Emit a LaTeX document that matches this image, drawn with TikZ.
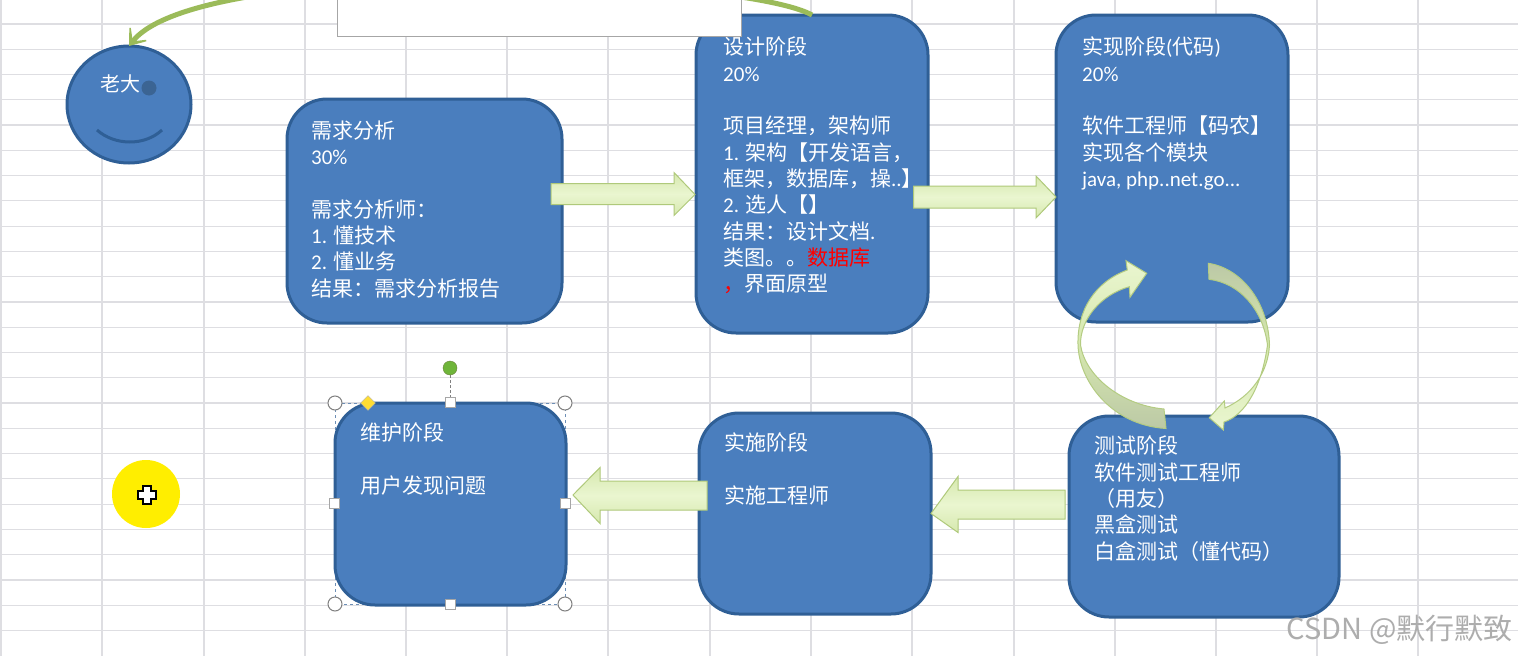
\documentclass[tikz,border=0pt]{standalone}
\usepackage{fontspec}
\setmainfont{Carlito}
\newfontfamily\cjk{Noto Sans CJK SC}
\usetikzlibrary{shapes.geometric,calc,arrows.meta}
\definecolor{grid}{HTML}{DEDEE2}
\definecolor{boxfill}{HTML}{4A7EBE}
\definecolor{boxline}{HTML}{2F5F96}
\definecolor{olive}{HTML}{9BBB59}
\definecolor{arrowlight}{HTML}{EAF6D0}
\definecolor{arrowmid}{HTML}{D6E8AE}
\definecolor{arrowdark}{HTML}{BCC9A6}
\definecolor{rotgreen}{HTML}{6FB53A}
\definecolor{adjyellow}{HTML}{FFDD33}
\definecolor{spotyellow}{HTML}{FFEE00}
\newcommand{\zh}[1]{{\cjk #1}}
\tikzset{
  gridline/.style={grid,line width=1.2pt},
  stagebox/.style={draw=boxline,fill=boxfill,line width=3pt,rounded corners=40pt,inner sep=0pt,outer sep=0pt},
  stagetext/.style={anchor=north west,inner sep=0pt,align=left,text=white,font=\fontsize{21}{26.3}\selectfont},
  blockstyle/.style={draw=olive!80,line width=1pt,top color=arrowmid,bottom color=arrowmid,middle color=arrowlight},
  curlstyle/.style={draw=olive!75,line width=1pt},
  handlecircle/.style={circle,draw=gray,fill=white,line width=1pt,minimum size=14pt,inner sep=0pt},
  handlesquare/.style={rectangle,draw=gray!70,fill=white,line width=1pt,minimum size=10pt,inner sep=0pt},
}
\newcommand{\blockarrow}[5]{%
  \path[blockstyle] let \p1=(#1),\p2=(#2) in
    (\x1,{\y1+#4}) -- ({\x2-(#3)},{\y1+#4}) -- ({\x2-(#3)},{\y1+#5}) -- (\x2,\y2)
    -- ({\x2-(#3)},{\y1-#5}) -- ({\x2-(#3)},{\y1-#4}) -- (\x1,{\y1-#4}) -- cycle;}
\begin{document}
\begin{tikzpicture}[x=1pt,y=-1pt]
\path[use as bounding box] (0,0) rectangle (1518,656);
\clip (0,0) rectangle (1518,656);
\fill[white] (0,0) rectangle (1518,656);
% sheet grid
\foreach \gx in {1,102,204,305,406,507,608,710,811,912,1014,1115,1216,1317,1418}
  \draw[gridline] (\gx,0) -- (\gx,656);
\foreach \gk in {0,...,24}
  \draw[gridline] (0,{24+25.27*\gk}) -- (1518,{24+25.27*\gk});
% selection frame
\draw[boxline!70,line width=0.8pt,dashed] (335,403) rectangle (565,604);
% stages
\node[stagebox,minimum width=275pt,minimum height=224pt] (box1) at (424.5,211) {};
\node[stagebox,minimum width=232pt,minimum height=318pt] (box2) at (812,174) {};
\node[stagebox,minimum width=232pt,minimum height=307pt] (box3) at (1172,168.5) {};
\node[stagebox,minimum width=270pt,minimum height=201pt] (box4) at (1204,516.5) {};
\node[stagebox,minimum width=232pt,minimum height=201pt] (box5) at (815,513.5) {};
\node[stagebox,minimum width=231pt,minimum height=202pt] (box6) at (450.5,504) {};
\node[stagetext] (t1) at (311,120.5) {\zh{需求分析}\\30\%\\ \mbox{}\\\zh{需求分析师：}\\1. \zh{懂技术}\\2. \zh{懂业务}\\\zh{结果：需求分析报告}};
\node[stagetext] (t2) at (723,37) {\zh{设计阶段}\\20\%\\ \mbox{}\\\zh{项目经理，架构师}\\1. \zh{架构【开发语言，}\\\zh{框架，数据库，操}..\zh{】}\\2. \zh{选人【】}\\\zh{结果：设计文档}.\\\zh{类图。。{\color{red}数据库}}\\\zh{{\color{red}，}界面原型}};
\node[stagetext] (t3) at (1082,37) {\zh{实现阶段}(\zh{代码})\\20\%\\ \mbox{}\\\zh{软件工程师【码农】}\\\zh{实现各个模块}\\java, php..net.go...};
\node[stagetext] (t4) at (1094,436) {\zh{测试阶段}\\\zh{软件测试工程师}\\\zh{（用友）}\\\zh{黑盒测试}\\\zh{白盒测试（懂代码）}};
\node[stagetext] (t5) at (724,433) {\zh{实施阶段}\\ \mbox{}\\\zh{实施工程师}};
\node[stagetext] (t6) at (360,423) {\zh{维护阶段}\\ \mbox{}\\\zh{用户发现问题}};
% face
\node[ellipse,draw=boxline,fill=boxfill,line width=3pt,minimum width=124pt,minimum height=117pt,inner sep=0pt,outer sep=0pt] (face) at (129,104.5) {};
\fill[boxline!85!gray] (149,88) circle (7.5);
\node[inner sep=0pt,text=white,font=\fontsize{20}{24}\selectfont] (boss) at (120,84) {\zh{老大}};
\draw[boxline,line width=3pt] (97,130) .. controls (115,146) and (145,146) .. (162,130);
% big olive arrow
\draw[olive,line width=5pt,-{Stealth[length=22pt,width=33pt,inset=16pt]}] (box2.north) .. controls (740,-25) and (200,-45) .. (face.north);
% white box over it
\node[draw=gray!70,fill=white,line width=1pt,minimum width=404pt,minimum height=46pt,inner sep=0pt] (blank) at (539,13) {};
% block arrows
\coordinate (a1s) at ($(box1.east)+(-11,-17)$);
\coordinate (a1t) at ($(box2.west)+(-1,20.5)$);
\coordinate (a2s) at ($(box2.east)+(-14.5,23)$);
\coordinate (a2t) at ($(box3.west)+(0,28.5)$);
\coordinate (a3s) at ($(box4.west)+(-4,-12)$);
\coordinate (a3t) at (box5.east);
\coordinate (a4s) at ($(box5.west)+(8,-18)$);
\coordinate (a4t) at ($(box6.east)+(7,-9)$);
\blockarrow{a1s}{a1t}{21}{10.5pt}{21.5pt}
\blockarrow{a2s}{a2t}{20}{11pt}{21pt}
\blockarrow{a3s}{a3t}{-27}{14.5pt}{28pt}
\blockarrow{a4s}{a4t}{-27}{14.5pt}{28pt}
% cycle arrows
\path[curlstyle,top color=arrowlight,bottom color=arrowdark,middle color=arrowmid]
  (1146.7,273.3) -- (1126,260.7) -- (1127.3,270) .. controls (1095,282) and (1077,310) .. (1078,345)
  .. controls (1079,380) and (1110,425) .. (1166,428.5) -- (1164,409)
  .. controls (1120,405) and (1085,375) .. (1080.5,345)
  .. controls (1080,320) and (1100,295) .. (1129.3,286.7) -- (1130,297.3) -- cycle;
\path[curlstyle,top color=arrowdark,bottom color=arrowlight,middle color=arrowmid]
  (1208.3,263.3) .. controls (1240,268) and (1268,300) .. (1269.5,345)
  .. controls (1268,372) and (1252,396) .. (1225,408) -- (1224.3,401) -- (1209.3,417.7) -- (1223.3,430) -- (1224,422)
  .. controls (1246,415) and (1262,385) .. (1267.5,345)
  .. controls (1263,310) and (1240,283) .. (1209,279.3) -- cycle;
% selection handles
\draw[gray,line width=1pt,densely dashed] (450,375) -- (450,403);
\node[circle,draw=olive!70!black,fill=rotgreen,minimum size=14pt,inner sep=0pt] (rot) at (450,368) {};
\node[handlecircle] (hnw) at (335,403) {};
\node[handlecircle] (hne) at (565,403) {};
\node[handlecircle] (hsw) at (335,604) {};
\node[handlecircle] (hse) at (565,604) {};
\node[handlesquare] (hn) at (450,402) {};
\node[handlesquare] (hs) at (450,604) {};
\node[handlesquare] (hw) at (334,503) {};
\node[handlesquare] (he) at (565,503) {};
\node[diamond,draw=gray!60,fill=adjyellow,minimum size=15pt,inner sep=0pt] (hadj) at (368,403) {};
% pointer
\node[ellipse,fill=spotyellow,minimum width=68pt,minimum height=68pt,inner sep=0pt] (spot) at (146,494) {};
\draw[black,fill=white,line width=2pt] (143,486) -- (151,486) -- (151,491) -- (156,491) -- (156,499) -- (151,499) -- (151,504) -- (143,504) -- (143,499) -- (138,499) -- (138,491) -- (143,491) -- cycle;
% watermark
\node[anchor=east,inner sep=0pt,text=black!32,font=\fontsize{29}{32}\selectfont] (mark) at (1513,630) {\zh{CSDN @默行默致}};
\end{tikzpicture}
\end{document}
